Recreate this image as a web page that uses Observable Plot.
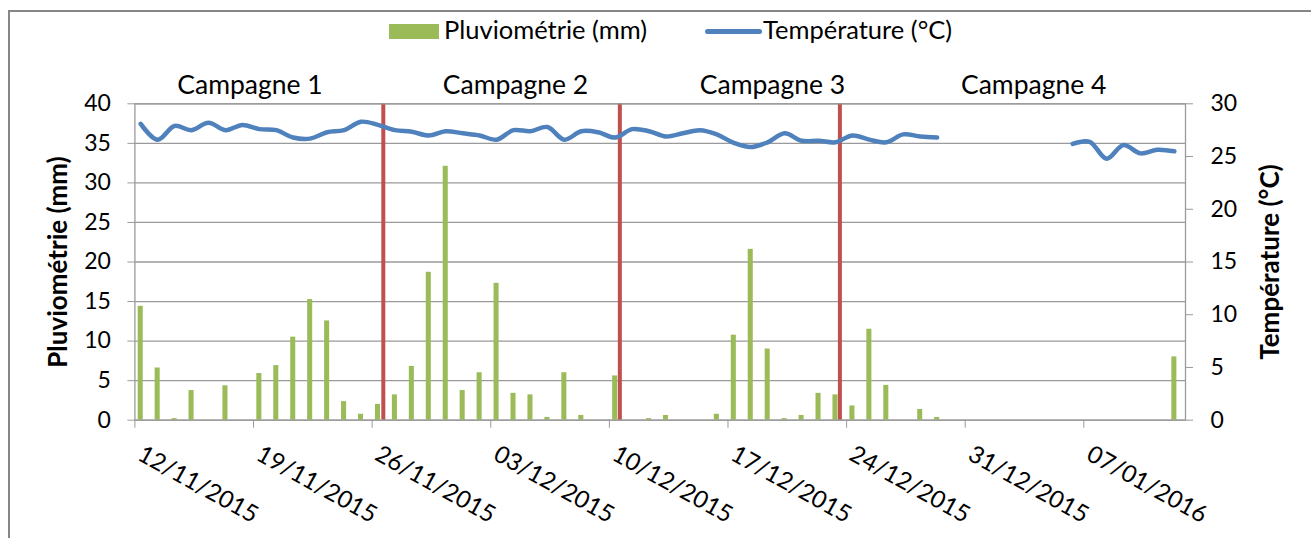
<!DOCTYPE html>
<html><head><meta charset="utf-8">
<script src="https://cdn.jsdelivr.net/npm/d3@7"></script>
<script src="https://cdn.jsdelivr.net/npm/@observablehq/plot@0.6"></script>
<style>
body{margin:0;background:#fff;font-family:Lato,"Open Sans",sans-serif;overflow:hidden;}
#wrap{position:relative;width:1311px;height:538px;overflow:hidden;}
#border{position:absolute;left:8px;top:10px;width:1400px;height:600px;border:2px solid #868686;box-sizing:border-box;}
#legend{position:absolute;left:0;top:0;height:48px;width:1311px;font-size:25.5px;color:#000;}
#legend .sw{position:absolute;left:389px;top:24px;width:50px;height:15px;background:#9bbb59;}
#legend .ln{position:absolute;left:705px;top:29px;width:57px;height:5px;border-radius:3px;background:#4f81bd;}
#legend .t1{position:absolute;left:444px;top:14px;}
#legend .t2{position:absolute;left:763px;top:14px;}
#chart{position:absolute;left:0;top:48px;}
</style>
</head><body>
<div id="wrap">
  <div id="border"></div>
  <div id="legend"><div class="sw"></div><span class="t1">Pluviométrie (mm)</span><div class="ln"></div><span class="t2">Température (°C)</span></div>
  <div id="chart"></div>
</div>
<script>
// First day of the daily series and number of days
const startDate = "2015-11-12";
const nDays = 62;

// Daily rainfall (mm), 12/11/2015 -> 12/01/2016
const rain = [14.4, 6.6, 0.2, 3.75, 0, 4.35, 0, 5.9, 6.9, 10.5, 15.25, 12.55, 2.35, 0.75, 2.0, 3.2, 6.8,
  18.7, 32.1, 3.75, 6.0, 17.3, 3.4, 3.2, 0.35, 6.0, 0.6, 0, 5.6, 0, 0.2, 0.6, 0, 0,
  0.75, 10.75, 21.6, 9.0, 0.2, 0.6, 3.4, 3.2, 1.8, 11.5, 4.4, 0, 1.35, 0.35,
  0, 0, 0, 0, 0, 0, 0, 0, 0, 0, 0, 0, 0, 8.0];

// Daily mean temperature (°C), null = missing
const temperature = [28.1, 26.6, 27.9, 27.5, 28.2, 27.5, 28.0, 27.6, 27.5, 26.8, 26.7, 27.3, 27.5, 28.3, 28.0, 27.5, 27.35,
  27.0, 27.4, 27.2, 27.0, 26.6, 27.5, 27.4, 27.8, 26.6, 27.4, 27.3, 26.8, 27.6, 27.4, 26.9, 27.2, 27.5,
  27.1, 26.3, 25.9, 26.35, 27.2, 26.5, 26.5, 26.35, 27.0, 26.6, 26.35, 27.1, 26.9, 26.8,
  null, null, null, null, null, null, null,
  26.2, 26.4, 24.8, 26.1, 25.3, 25.65, 25.5];

// Campaign separators and labels
const campaignBoundaries = ["2015-11-26T15:50", "2015-12-10T14:50", "2015-12-23T14:30"];
const campaignLabels = ["Campagne 1", "Campagne 2", "Campagne 3", "Campagne 4"];
const campaignLabelDates = ["2015-11-18T19:00", "2015-12-04T11:00", "2015-12-19T15:00", "2016-01-04T01:00"];

// Axis ticks
const dateTicks = ["2015-11-12", "2015-11-19", "2015-11-26", "2015-12-03", "2015-12-10", "2015-12-17", "2015-12-24", "2015-12-31", "2016-01-07"];
const rainTicks = [0, 5, 10, 15, 20, 25, 30, 35, 40];
const tempTicks = [0, 5, 10, 15, 20, 25, 30];
const rainMax = 40, tempMax = 30;

const parse = s => new Date(s + (s.length === 10 ? "T00:00Z" : "Z"));
const days = d3.utcDay.range(parse(startDate), d3.utcDay.offset(parse(startDate), nDays));
const DAY = 864e5;
const rainData = days.map((d, i) => ({date: d, next: new Date(+d + DAY), v: rain[i]})).filter(d => d.v > 0);
const tempData = days.map((d, i) => ({date: d, v: temperature[i]}));
const toRain = t => t * rainMax / tempMax;
const xTicks = dateTicks.map(parse);

const chart = Plot.plot({
  width: 1311,
  height: 490,
  marginLeft: 134.4,
  marginRight: 126,
  marginTop: 55.3,
  marginBottom: 118.3,
  style: {fontFamily: "Lato, 'Open Sans', sans-serif", fontSize: "23px", color: "#000", background: "transparent"},
  x: {type: "utc", domain: [days[0], new Date(+days[nDays - 1] + DAY)]},
  y: {domain: [0, rainMax]},
  marks: [
    Plot.gridY(rainTicks, {stroke: "#9a9a9a", strokeOpacity: 1, strokeWidth: 1.3}),
    Plot.rectY(rainData, {x1: "date", x2: "next", y: "v", fill: "#9bbb59", insetLeft: 3.3, insetRight: 8.6}),
    Plot.ruleX(campaignBoundaries.map(parse), {stroke: "#c0504d", strokeWidth: 4}),
    Plot.line(tempData, {x: "date", y: d => d.v == null ? null : toRain(d.v), stroke: "#4f81bd", strokeWidth: 4.5, curve: "catmull-rom", dx: 5.8}),
    Plot.frame({stroke: "#9a9a9a", strokeWidth: 1.3}),
    Plot.axisY({ticks: rainTicks, tickSize: 7, tickPadding: 17, stroke: "#9a9a9a", label: null, fontSize: 23}),
    Plot.axisY({anchor: "right", ticks: tempTicks.map(toRain), tickFormat: d => Math.round(d * tempMax / rainMax), tickSize: 7, tickPadding: 18, stroke: "#9a9a9a", label: null, fontSize: 23}),
    Plot.axisX({ticks: xTicks, tickSize: 8, text: null, stroke: "#9a9a9a", label: null}),
    Plot.axisX({ticks: xTicks, tickFormat: d3.utcFormat("%d/%m/%Y"), tickSize: 0, tickPadding: 32, dx: 5, tickRotate: 29, label: null, fontSize: 24}),
    Plot.text(campaignLabels, {x: (d, i) => parse(campaignLabelDates[i]), frameAnchor: "top", lineAnchor: "bottom", dy: -10, fontSize: 26.5}),
    Plot.text(["Pluviométrie (mm)"], {frameAnchor: "left", textAnchor: "middle", lineAnchor: "middle", rotate: -90, dx: -76, fontWeight: "bold", fontSize: 26}),
    Plot.text(["Température (°C)"], {frameAnchor: "right", textAnchor: "middle", lineAnchor: "middle", rotate: -90, dx: 85, fontWeight: "bold", fontSize: 26})
  ]
});
document.getElementById("chart").appendChild(chart);
</script>
</body></html>
